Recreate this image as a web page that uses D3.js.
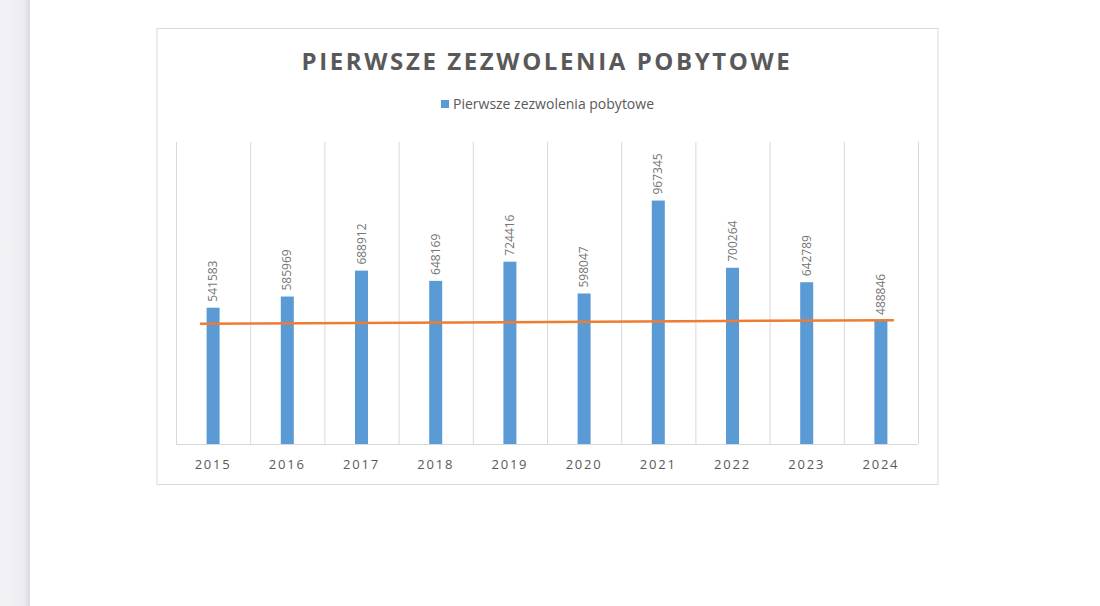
<!DOCTYPE html>
<html><head><meta charset="utf-8">
<script src="https://cdn.jsdelivr.net/npm/d3@7"></script>
<style>body{margin:0;background:#fff;}svg{display:block;font-family:"Open Sans",sans-serif;}</style>
</head><body><svg id="c" width="1100" height="606"></svg>
<script>
const years = ["2015","2016","2017","2018","2019","2020","2021","2022","2023","2024"];
const values = [541583,585969,688912,648169,724416,598047,967345,700264,642789,488846];
const trendValues = [478000, 492000];
const title = "PIERWSZE ZEZWOLENIA POBYTOWE";
const legendLabel = "Pierwsze zezwolenia pobytowe";

const svg = d3.select("#c");
const defs = svg.append("defs");
const g0 = defs.append("linearGradient").attr("id","side");
g0.append("stop").attr("offset","0").attr("stop-color","#f2f2f6");
g0.append("stop").attr("offset","0.8").attr("stop-color","#ececf2");
g0.append("stop").attr("offset","1").attr("stop-color","#d9d9e0");
svg.append("rect").attr("x",0).attr("y",0).attr("width",30).attr("height",606).attr("fill","url(#side)");
svg.append("rect").attr("x",157).attr("y",28.5).attr("width",781).attr("height",456).attr("fill","#fff").attr("stroke","#d9d9d9");

const x = d3.scaleBand().domain(years).range([176,918]);
const y = d3.scaleLinear().domain([0,1200000]).range([444,142]);

const bounds = years.map(d=>x(d)).concat([x.range()[1]]);
svg.append("g").selectAll("line").data(bounds).join("line")
 .attr("x1",d=>d+0.5).attr("x2",d=>d+0.5).attr("y1",142).attr("y2",444).attr("stroke","#d9d9d9");
svg.append("line").attr("x1",176).attr("x2",918).attr("y1",444.5).attr("y2",444.5).attr("stroke","#d9d9d9");

const bw = 13;
svg.append("g").selectAll("rect").data(values).join("rect")
 .attr("x",(d,i)=>x(years[i])+x.bandwidth()/2-bw/2).attr("width",bw)
 .attr("y",d=>y(d)).attr("height",d=>y(0)-y(d)).attr("fill","#5b9bd5");

svg.append("g").selectAll("text").data(values).join("text")
 .attr("transform",(d,i)=>`translate(${x(years[i])+x.bandwidth()/2+4},${y(d)-6}) rotate(-90)`)
 .attr("font-size",12).attr("fill","#757575").text(d=>d);

svg.append("line")
 .attr("x1",x(years[0])+x.bandwidth()/2-13).attr("x2",x(years[9])+x.bandwidth()/2+13)
 .attr("y1",y(trendValues[0])).attr("y2",y(trendValues[1]))
 .attr("stroke","#ed7d31").attr("stroke-width",2.5);

svg.append("g").selectAll("text").data(years).join("text")
 .attr("x",d=>x(d)+x.bandwidth()/2).attr("y",469).attr("text-anchor","middle")
 .attr("font-size",13).attr("letter-spacing","1.8").attr("fill","#595959").text(d=>d);

svg.append("text").attr("x",547).attr("y",70).attr("text-anchor","middle")
 .attr("font-size",24).attr("font-weight","bold").attr("letter-spacing","2.6").attr("fill","#595959").text(title);

svg.append("rect").attr("x",441).attr("y",100).attr("width",8).attr("height",8).attr("fill","#5b9bd5");
svg.append("text").attr("x",453).attr("y",109).attr("font-size",14).attr("fill","#595959").text(legendLabel);
</script></body></html>
